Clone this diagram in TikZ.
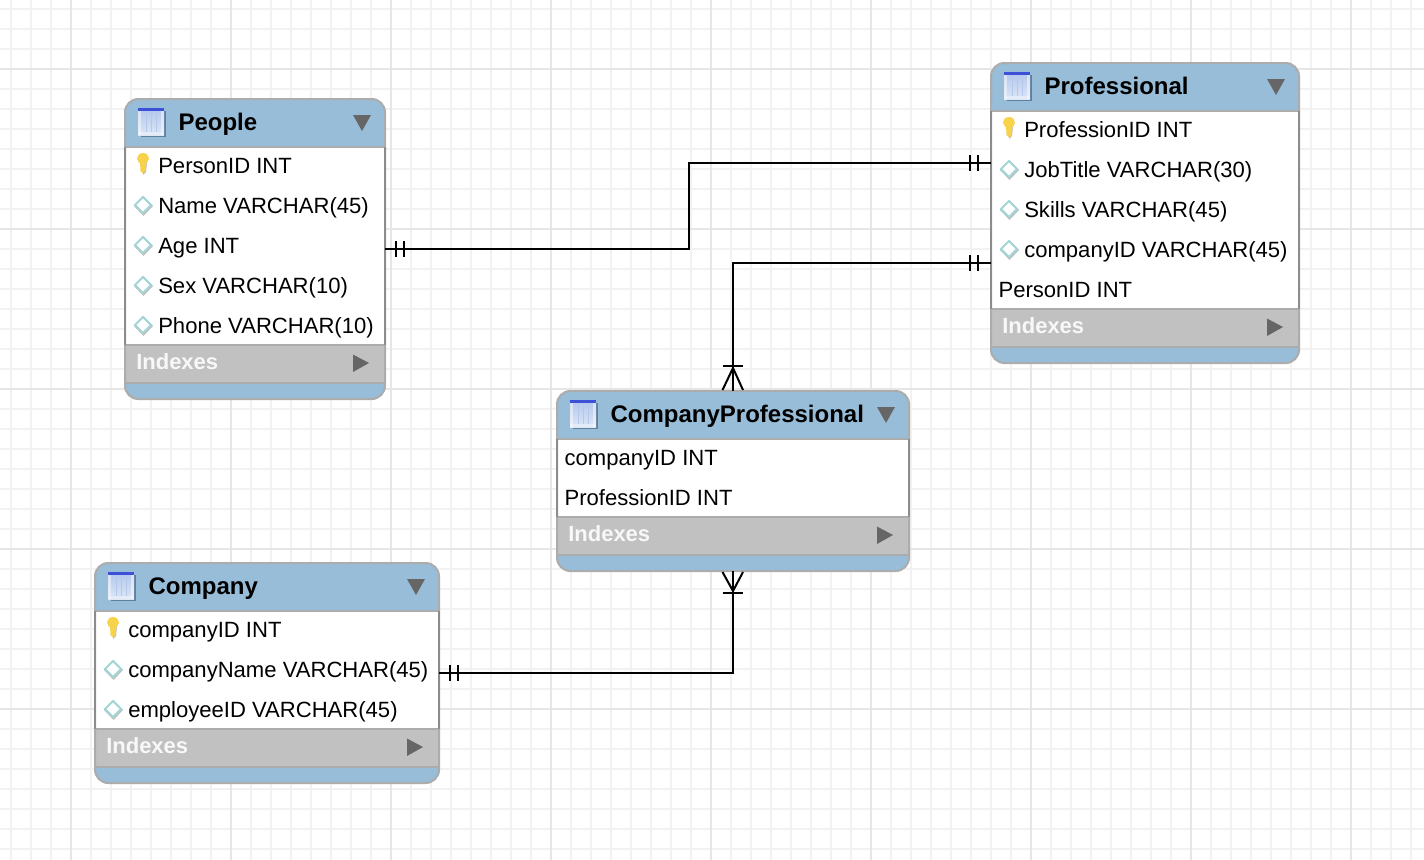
\documentclass[tikz,border=0pt]{standalone}
\usepackage{fontspec}
\setmainfont{Liberation Sans}
\usetikzlibrary{calc}
\definecolor{hdrblue}{HTML}{98BDD8}
\definecolor{idxgrey}{HTML}{C1C1C1}
\definecolor{edgetop}{HTML}{ACACAC}
\definecolor{edgeside}{HTML}{8C8C8C}
\definecolor{tri}{HTML}{666666}
\definecolor{minorg}{HTML}{F2F2F2}
\definecolor{majorg}{HTML}{E6E6E6}
\definecolor{idxtxt}{HTML}{F8F8F8}
\definecolor{dmd}{HTML}{A2D6D6}
\definecolor{hdrlight}{HTML}{B4C8EC}
\definecolor{hdrlow}{HTML}{DCE6F6}
\definecolor{iconblue}{HTML}{3C50D8}
\definecolor{iconshadow}{HTML}{5F7F9C}
\definecolor{keyy}{HTML}{F8D24A}
\definecolor{keyshadow}{HTML}{C9C4A8}
\tikzset{
  x=0.75pt,y=-0.75pt,
  minorline/.style={minorg,line width=1.5pt},
  majorline/.style={majorg,line width=1.5pt},
  tablebody/.style={rectangle,fill=hdrblue,rounded corners=10pt,inner sep=0pt,outer sep=0pt},
  tableedge/.style={edgetop,line width=1.5pt,rounded corners=10pt},
  sideedge/.style={edgeside,line width=1.5pt},
  sepline/.style={edgetop,line width=1.5pt},
  titletext/.style={anchor=base west,inner sep=0pt,font=\fontsize{18}{20}\bfseries\selectfont},
  rowtext/.style={anchor=base west,inner sep=0pt,font=\fontsize{16.55}{20}\selectfont},
  idxtext/.style={anchor=base west,inner sep=0pt,text=idxtxt,font=\fontsize{16.5}{20}\bfseries\selectfont},
  relation/.style={black,line width=1.5pt},
  tick/.style={black,line width=1.5pt},
}
% name, x0, y0, x1, y1, bottom of the rows, title
\newcommand{\ertable}[7]{%
  \node[tablebody,minimum width={(#4-#2)*0.75pt},minimum height={(#5-#3)*0.75pt}] (#1) at ({(#2+#4)/2},{(#3+#5)/2}) {};
  \fill[white] (#2,#3+48) rectangle (#4,#6);
  \fill[idxgrey] (#2,#6) rectangle (#4,#6+38);
  \draw[sepline] (#2,#3+48) -- (#4,#3+48);
  \draw[sepline] (#2,#6) -- (#4,#6);
  \draw[sepline] (#2,#6+38) -- (#4,#6+38);
  \draw[tableedge] (#2,#3) rectangle (#4,#5);
  \draw[sideedge] (#2,#3+48) -- (#2,#6);
  \draw[sideedge] (#4,#3+48) -- (#4,#6);
  % table icon
  \fill[iconshadow] (#2+16,#3+12) rectangle (#2+41,#3+37.5);
  \shade[top color=hdrlight,bottom color=hdrlow] (#2+13,#3+10) rectangle (#2+39,#3+36);
  \fill[white,opacity=.3] (#2+14,#3+33) rectangle (#2+38,#3+36);
  \fill[white,opacity=.45] (#2+13,#3+12) rectangle (#2+16,#3+36);
  \fill[white,opacity=.45] (#2+36,#3+12) rectangle (#2+39,#3+36);
  \fill[hdrlight] (#2+20.5,#3+14) rectangle (#2+21.5,#3+33);
  \fill[hdrlight] (#2+25.5,#3+14) rectangle (#2+26.5,#3+33);
  \fill[hdrlight] (#2+30.5,#3+14) rectangle (#2+31.5,#3+33);
  \fill[iconblue] (#2+13,#3+9) rectangle (#2+39,#3+12);
  % title and triangles
  \node[titletext] (#1-title) at (#2+53.3,#3+31) {#7};
  \fill[tri] (#4-32,#3+16) -- (#4-14,#3+16) -- (#4-23,#3+32) -- cycle;
  \node[idxtext] (#1-idx) at (#2+11,#6+24) {Indexes};
  \fill[tri] (#4-32,#6+9.5) -- (#4-16,#6+18) -- (#4-32,#6+27) -- cycle;
}
% key row: node name, x0, baseline, text
\newcommand{\keyrow}[4]{%
  \fill[keyshadow] (#2+19,#3-10) -- (#2+22,#3-10) -- (#2+21,#3-1) -- (#2+18,#3+2) -- cycle;
  \fill[keyy] (#2+18,#3-14.5) ellipse[x radius=6,y radius=5.5];
  \fill[keyy] (#2+15,#3-14) -- (#2+21,#3-14) -- (#2+20.6,#3-3) -- (#2+18,#3+0.5) -- (#2+15.4,#3-2) -- cycle;
  \node[rowtext] (#1) at (#2+33,#3) {#4};
}
% column row with a diamond
\newcommand{\dmdrow}[4]{%
  \fill[black!25] (#2+18.5,#3-17) -- (#2+28,#3-7) -- (#2+18.5,#3+3) -- (#2+9,#3-7) -- cycle;
  \fill[white,draw=dmd,line width=1.4pt] (#2+18,#3-16) -- (#2+26,#3-8) -- (#2+18,#3) -- (#2+10,#3-8) -- cycle;
  \node[rowtext] (#1) at (#2+33,#3) {#4};
}
\newcommand{\plainrow}[4]{\node[rowtext] (#1) at (#2+7.3,#3) {#4};}
\begin{document}
\begin{tikzpicture}
\useasboundingbox (0,0) rectangle (1424,860);
\fill[white] (0,0) rectangle (1424,860);
% grid
\foreach \k in {0,...,71} \draw[minorline] (10.5+20*\k,0) -- (10.5+20*\k,860);
\foreach \k in {0,...,43} \draw[minorline] (0,8.5+20*\k) -- (1424,8.5+20*\k);
\foreach \k in {0,...,8} \draw[majorline] (70.5+160*\k,0) -- (70.5+160*\k,860);
\foreach \k in {0,...,4} \draw[majorline] (0,68.5+160*\k) -- (1424,68.5+160*\k);
% People
\ertable{people}{125}{99}{385}{399}{345}{People}
\keyrow{p1}{125}{173}{PersonID INT}
\dmdrow{p2}{125}{213}{Name VARCHAR(45)}
\dmdrow{p3}{125}{253}{Age INT}
\dmdrow{p4}{125}{293}{Sex VARCHAR(10)}
\dmdrow{p5}{125}{333}{Phone VARCHAR(10)}
% Professional
\ertable{prof}{991}{63}{1299}{363}{309}{Professional}
\keyrow{f1}{991}{137}{ProfessionID INT}
\dmdrow{f2}{991}{177}{JobTitle VARCHAR(30)}
\dmdrow{f3}{991}{217}{Skills VARCHAR(45)}
\dmdrow{f4}{991}{257}{companyID VARCHAR(45)}
\plainrow{f5}{991}{297}{PersonID INT}
% CompanyProfessional
\ertable{cp}{557}{391}{909}{571}{517}{CompanyProfessional}
\plainrow{c1}{557}{465}{companyID INT}
\plainrow{c2}{557}{505}{ProfessionID INT}
% Company
\ertable{company}{95}{563}{439}{783}{729}{Company}
\keyrow{m1}{95}{637}{companyID INT}
\dmdrow{m2}{95}{677}{companyName VARCHAR(45)}
\dmdrow{m3}{95}{717}{employeeID VARCHAR(45)}
% relationships
\draw[relation] (people.east) -- (689,249) -- (689,163) -- ($(prof.west)+(0,-50)$);
\draw[relation] ($(prof.west)+(0,50)$) -- (733,263) -- (cp.north);
\draw[relation] (company.east) -- (733,673) -- (cp.south);
% one-and-only-one ticks
\foreach \xx in {396,404} \draw[tick] (\xx,241) -- (\xx,257);
\foreach \xx in {970,978} \draw[tick] (\xx,155) -- (\xx,171);
\foreach \xx in {970,978} \draw[tick] (\xx,255) -- (\xx,271);
\foreach \xx in {450,458} \draw[tick] (\xx,665) -- (\xx,681);
% crow's feet
\draw[tick] (722.5,366) -- (742.5,366);
\draw[tick] (722.5,390) -- (733,368) -- (743,390);
\draw[tick] (722.5,593) -- (742.5,593);
\draw[tick] (722.5,572) -- (733,591) -- (743,572);
\end{tikzpicture}
\end{document}
